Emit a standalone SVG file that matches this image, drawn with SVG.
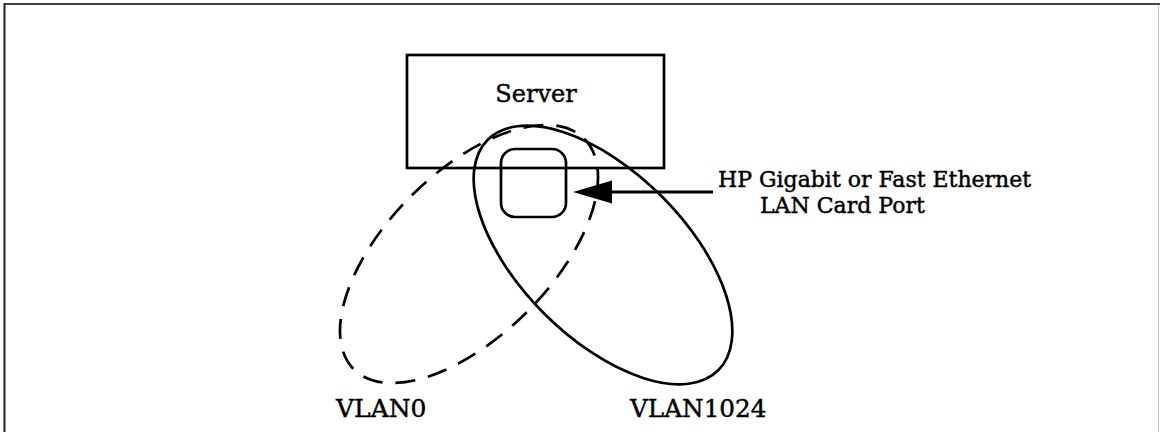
<svg xmlns="http://www.w3.org/2000/svg" width="1160" height="432" viewBox="0 0 1160 432">
  <style>
    .txt { font-family: "DejaVu Serif", "Liberation Serif", serif; fill: #000; stroke: #000; stroke-width: 0.45; }
    .box { fill: none; stroke: #000; stroke-width: 2.7; }
    .solid { fill: none; stroke: #000; stroke-width: 2.7; }
    .dashed { fill: none; stroke: #000; stroke-width: 2.7; stroke-dasharray: 20 13; }
    .conn { fill: none; stroke: #000; stroke-width: 3; }
  </style>
  <defs>
    <marker id="arrow" markerUnits="userSpaceOnUse" markerWidth="40" markerHeight="24" refX="22" refY="11.5" orient="auto">
      <path d="M0,0 L39,11.5 L0,23 Z" fill="#000"/>
    </marker>
  </defs>
  <rect width="1160" height="432" fill="#fff"/>
  <g id="frame">
    <line x1="4" y1="4" x2="1160" y2="4" stroke="#444" stroke-width="2"/>
    <line x1="4.5" y1="3" x2="4.5" y2="432" stroke="#222" stroke-width="2"/>
    <line x1="1158.5" y1="5" x2="1158.5" y2="432" stroke="#c8c8c8" stroke-width="1"/>
  </g>
  <g id="server">
    <rect class="box" x="407" y="55" width="257" height="113"/>
    <text class="txt" x="536" y="102" font-size="24" text-anchor="middle">Server</text>
  </g>
  <g id="vlan0">
    <ellipse class="dashed" cx="469" cy="254" rx="163" ry="82" transform="rotate(-45 469 254)"/>
    <text class="txt" x="336" y="417" font-size="25">VLAN0</text>
  </g>
  <g id="vlan1024">
    <ellipse class="solid" cx="603" cy="255" rx="163" ry="83" transform="rotate(45 603 255)"/>
    <text class="txt" x="630" y="417" font-size="24.7">VLAN1024</text>
  </g>
  <g id="port">
    <rect class="box" x="501" y="149" width="65" height="68" rx="14" ry="14"/>
  </g>
  <g id="port-label">
    <text class="txt" x="718" y="187" font-size="22">HP Gigabit or Fast Ethernet</text>
    <text class="txt" x="760" y="213" font-size="22">LAN Card Port</text>
  </g>
  <g id="connectors">
    <line class="conn" x1="713" y1="192" x2="590" y2="192" marker-end="url(#arrow)"/>
  </g>
</svg>
